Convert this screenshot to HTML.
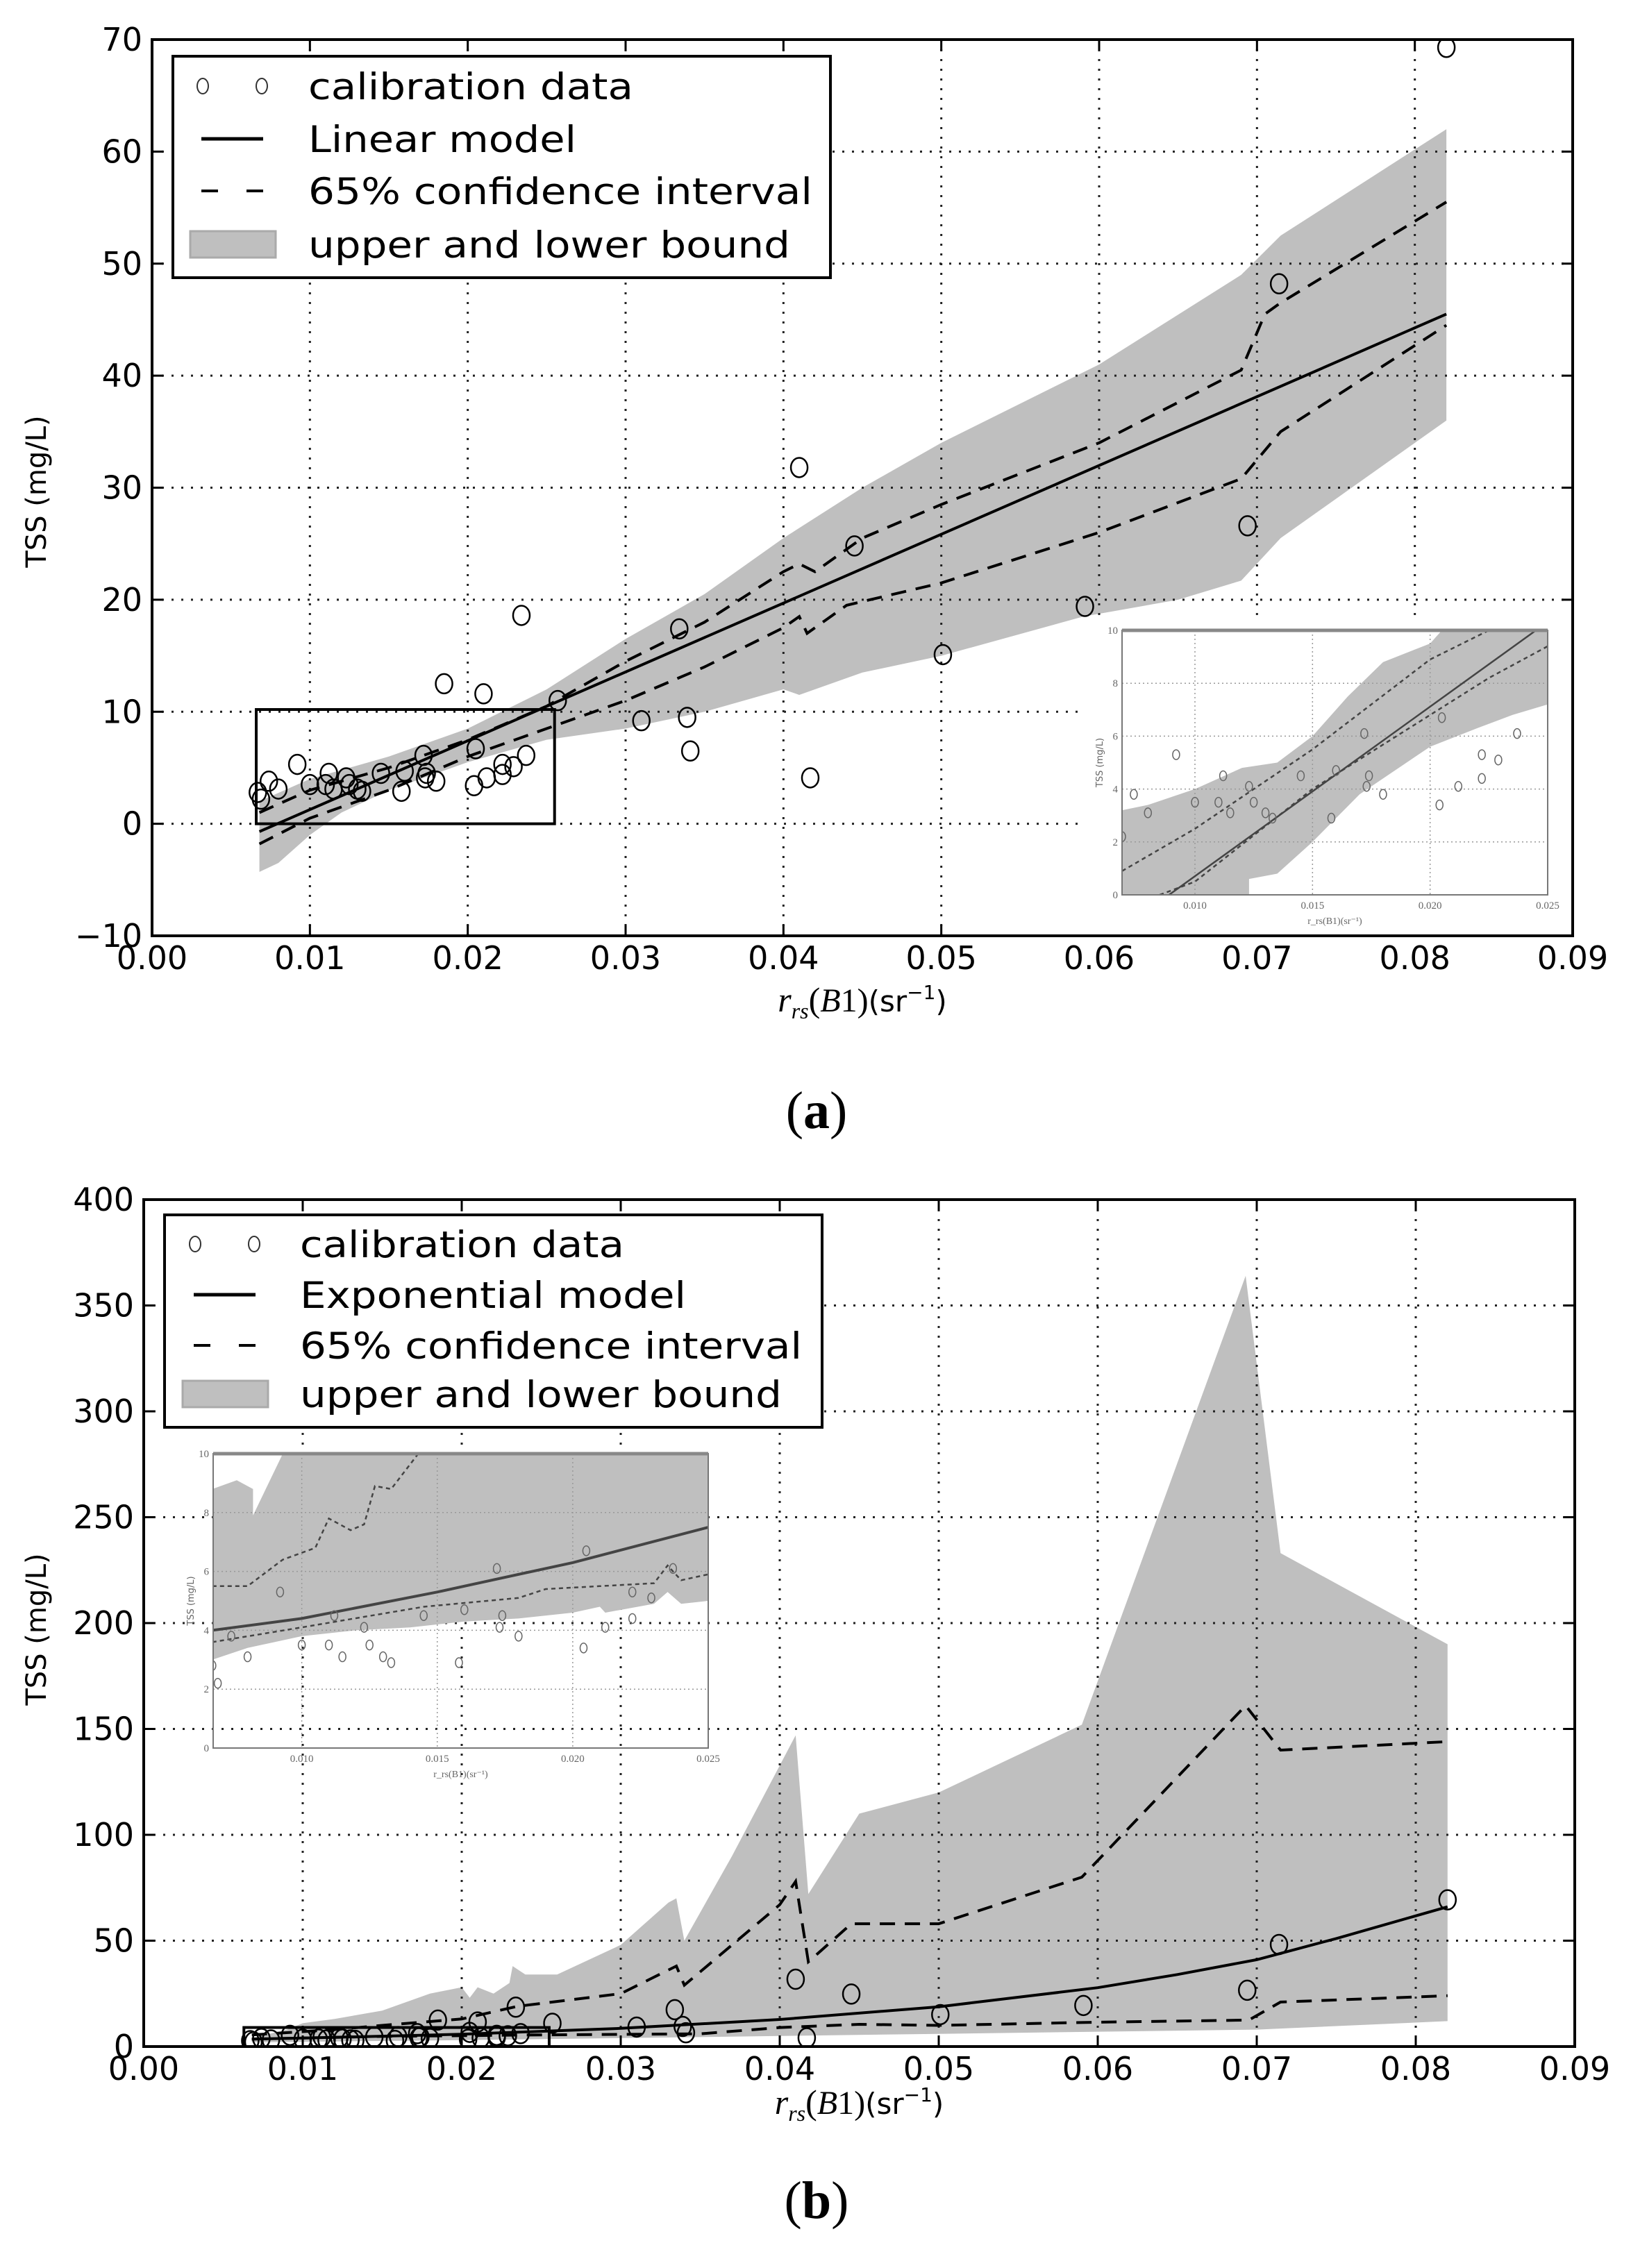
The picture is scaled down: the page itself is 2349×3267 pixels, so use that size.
<!DOCTYPE html>
<html><head><meta charset="utf-8"><style>
html,body{margin:0;padding:0;background:#fff;}
svg{display:block;font-family:"DejaVu Sans","Liberation Sans",sans-serif;}
</style></head>
<body>
<svg id="fig" width="2349" height="3267" viewBox="0 0 2349 3267" xmlns="http://www.w3.org/2000/svg">
<rect x="0" y="0" width="2349" height="3267" fill="#fff"/>
</svg>
<script>
// ---------- DATA ----------
const xTicks = [0.00,0.01,0.02,0.03,0.04,0.05,0.06,0.07,0.08,0.09];
const xTickLabels = ["0.00","0.01","0.02","0.03","0.04","0.05","0.06","0.07","0.08","0.09"];
const yTicksA = [-10,0,10,20,30,40,50,60,70];
const yTickLabelsA = ["\u221210","0","10","20","30","40","50","60","70"];
const yTicksB = [0,50,100,150,200,250,300,350,400];
const yTickLabelsB = ["0","50","100","150","200","250","300","350","400"];

const obsX = [0.082,0.0714,0.0694,0.0591,0.0501,0.0410,0.0417,0.0445,0.0334,0.0339,0.0341,0.0310,0.0257,0.0234,0.0185,0.0210,0.0205,0.0204,0.0212,0.0222,0.0222,0.0229,0.0237,0.0067,0.0069,0.0074,0.0080,0.0092,0.0100,0.0110,0.0112,0.0115,0.0123,0.0125,0.0130,0.0133,0.0145,0.0158,0.0160,0.0172,0.0173,0.0180,0.0174];
const obsY = [69.3,48.2,26.6,19.4,15.1,31.8,4.1,24.8,17.4,9.5,6.5,9.2,11.0,18.6,12.5,11.6,6.7,3.4,4.1,5.3,4.4,5.1,6.1,2.8,2.2,3.8,3.1,5.3,3.5,3.5,4.5,3.1,4.1,3.5,3.1,2.9,4.5,2.9,4.7,6.1,4.1,3.8,4.5];

// panel (a) linear model
const linModelX = [0.0068,0.082];
const linModelY = [-0.7,45.5];
const linBandUpX = [0.0068,0.010,0.015,0.020,0.025,0.030,0.035,0.040,0.045,0.050,0.060,0.069,0.0715,0.082];
const linBandUpY = [2,4,6,8.5,12,16.5,20.5,25.5,30,34,41,49,52.5,62];
const linBandLoX = [0.0068,0.008,0.010,0.012,0.015,0.020,0.025,0.030,0.035,0.040,0.041,0.045,0.050,0.059,0.065,0.069,0.0715,0.082];
const linBandLoY = [-4.3,-3.5,-1,1,3,5.5,7.5,8.5,10,12,11.5,13.5,15,18.5,20,21.7,25.5,36];
const linCiUpX = [0.0068,0.010,0.015,0.020,0.025,0.030,0.035,0.040,0.041,0.042,0.045,0.050,0.060,0.069,0.0705,0.0715,0.082];
const linCiUpY = [1,3,5,7.5,10.5,14.5,18,22.5,23.2,22.5,25.5,28.5,34,40.5,45.5,46.5,55.5];
const linCiLoX = [0.0068,0.010,0.015,0.020,0.025,0.030,0.035,0.040,0.041,0.0415,0.044,0.050,0.060,0.069,0.0715,0.082];
const linCiLoY = [-1.8,0.5,3,6,8.5,11,14,17.5,18.5,17,19.5,21.5,26,30.8,35,44.5];

// inset (a)
const insAModelX = [0.0089,0.0245];
const insAModelY = [0,10];
const insABandUpX = [0.0069,0.008,0.010,0.012,0.0135,0.015,0.0165,0.018,0.020,0.0205,0.025];
const insABandUpY = [3.2,3.4,4.0,4.8,5.0,6.0,7.5,8.8,9.5,10,10];
const insABandLoX = [0.0069,0.0123,0.0123,0.0135,0.015,0.017,0.020,0.022,0.0235,0.025];
const insABandLoY = [0,0,0.6,0.8,2,3.8,5.6,6.3,6.8,7.2];
const insACiUpX = [0.0069,0.010,0.015,0.020,0.0225];
const insACiUpY = [0.9,2.5,5.5,8.9,10];
const insACiLoX = [0.0085,0.010,0.015,0.020,0.0225,0.025];
const insACiLoY = [0,0.5,4.0,6.8,8.2,9.4];

// panel (b) exponential model
const expModelX = [0.0068,0.010,0.020,0.030,0.040,0.050,0.060,0.065,0.070,0.075,0.082];
const expModelY = [3.5,4,5.8,8.6,12.8,18.8,27.8,34,41,51,66];
const expBandUpX = [0.0068,0.009,0.010,0.012,0.015,0.018,0.020,0.0205,0.021,0.022,0.023,0.0232,0.024,0.026,0.030,0.033,0.0335,0.034,0.037,0.041,0.0418,0.045,0.050,0.059,0.0693,0.0715,0.082];
const expBandUpY = [4,8,11,13,17,25,28,23,28,25,30,38,34,34,48,68,70,50,90,147,72,110,120,152,364,233,190];
const expBandLoX = [0.0068,0.020,0.030,0.040,0.050,0.070,0.082];
const expBandLoY = [2,3,4,5,6,8,12];
const expCiUpX = [0.0068,0.012,0.015,0.020,0.0235,0.030,0.0335,0.034,0.040,0.041,0.0418,0.0445,0.050,0.059,0.0693,0.0715,0.082];
const expCiUpY = [5.5,8,10,13,19,25,38,29,67,78,40,58,58,80,161,140,144];
const expCiLoX = [0.0068,0.015,0.025,0.035,0.040,0.045,0.050,0.060,0.0695,0.0715,0.082];
const expCiLoY = [3.5,4.8,5.5,6,9,10.5,10,11.5,12.5,21,24];

// inset (b)
const insBModelX = [0.0067,0.010,0.015,0.020,0.025];
const insBModelY = [4.0,4.4,5.3,6.3,7.5];
const insBBandUpX = [0.0067,0.0076,0.0082,0.0082,0.0093,0.025];
const insBBandUpY = [8.8,9.1,8.8,7.9,10,10];
const insBBandLoX = [0.0067,0.008,0.010,0.012,0.014,0.016,0.018,0.020,0.021,0.0212,0.023,0.0235,0.024,0.025];
const insBBandLoY = [3.0,3.4,3.8,4.0,4.1,4.3,4.4,4.6,4.8,4.6,4.9,5.3,4.9,5.0];
const insBCiUpX = [0.0067,0.008,0.0093,0.0105,0.011,0.0118,0.0123,0.0127,0.0133,0.0143];
const insBCiUpY = [5.5,5.5,6.4,6.8,7.8,7.4,7.6,8.9,8.8,10];
const insBCiLoX = [0.0067,0.010,0.0145,0.018,0.019,0.021,0.023,0.0235,0.024,0.025];
const insBCiLoY = [3.6,4.1,4.8,5.1,5.4,5.5,5.6,6.2,5.7,5.9];
const insXTicks = [0.010,0.015,0.020,0.025];
const insXTickLabels = ["0.010","0.015","0.020","0.025"];
const insYTicks = [0,2,4,6,8,10];

// ---------- HELPERS ----------
const NS = "http://www.w3.org/2000/svg";
const svg = document.getElementById('fig');
function mk(tag, attrs, parent){
  const e = document.createElementNS(NS, tag);
  for (const k in attrs) e.setAttribute(k, attrs[k]);
  (parent||svg).appendChild(e);
  return e;
}
function scale(d0,d1,p0,p1){ return v => p0 + (v-d0)/(d1-d0)*(p1-p0); }
function pts(xs,ys,sx,sy){ return xs.map((x,i)=>sx(x).toFixed(1)+','+sy(ys[i]).toFixed(1)).join(' '); }
function bandPts(ux,uy,lx,ly,sx,sy){
  const a = ux.map((x,i)=>sx(x).toFixed(1)+','+sy(uy[i]).toFixed(1));
  const b = lx.map((x,i)=>sx(x).toFixed(1)+','+sy(ly[i]).toFixed(1)).reverse();
  return a.concat(b).join(' ');
}

function drawPanel(cfg){
  const g = mk('g',{});
  
  
  const sx = scale(0,0.09,cfg.x0,cfg.x1);
  const sy = scale(cfg.yMin,cfg.yMax,cfg.yB,cfg.yT);
  const clip = mk('clipPath',{id:'clip-'+cfg.name},g);
  mk('rect',{x:cfg.x0,y:cfg.yT,width:cfg.x1-cfg.x0,height:cfg.yB-cfg.yT},clip);
  const plot = mk('g',{'clip-path':'url(#clip-'+cfg.name+')'},g);
  const band = mk('polygon',{points:bandPts(cfg.bux,cfg.buy,cfg.blx,cfg.bly,sx,sy),fill:'#bfbfbf',stroke:'none'},plot);
  
  
  xTicks.forEach(t=>{
    if (t===0||t===0.09) return;
    mk('line',{x1:sx(t),x2:sx(t),y1:cfg.yT,y2:cfg.yB,stroke:'#222','stroke-width':3,'stroke-dasharray':'3 11'},plot);
  });
  cfg.yTicks.forEach(t=>{
    if (t===cfg.yMin||t===cfg.yMax) return;
    mk('line',{x1:cfg.x0,x2:cfg.x1,y1:sy(t),y2:sy(t),stroke:'#222','stroke-width':3,'stroke-dasharray':'3 11'},plot);
  });
  const ciU = mk('polyline',{points:pts(cfg.cux,cfg.cuy,sx,sy),fill:'none',stroke:'#000','stroke-width':4,'stroke-dasharray':'22 14'},plot);
  
  
  const ciL = mk('polyline',{points:pts(cfg.clx,cfg.cly,sx,sy),fill:'none',stroke:'#000','stroke-width':4,'stroke-dasharray':'22 14'},plot);
  
  
  const model = mk('polyline',{points:pts(cfg.mx,cfg.my,sx,sy),fill:'none',stroke:'#000','stroke-width':4},plot);
  
  
  const zr = mk('rect',{x:sx(cfg.zr[0]),y:sy(cfg.zr[3]),width:sx(cfg.zr[1])-sx(cfg.zr[0]),height:sy(cfg.zr[2])-sy(cfg.zr[3]),fill:'none',stroke:'#000','stroke-width':4},plot);
  
  
  obsX.forEach((x,i)=>{
    const c = mk('ellipse',{cx:sx(x),cy:sy(obsY[i]),rx:12,ry:14,fill:'none',stroke:'#000','stroke-width':2.5},plot);
    
    
  });
  const fr = mk('rect',{x:cfg.x0,y:cfg.yT,width:cfg.x1-cfg.x0,height:cfg.yB-cfg.yT,fill:'none',stroke:'#000','stroke-width':4},g);
  
  
  xTicks.forEach((t,i)=>{
    mk('line',{x1:sx(t),x2:sx(t),y1:cfg.yB,y2:cfg.yB-16,stroke:'#000','stroke-width':3},g);
    mk('line',{x1:sx(t),x2:sx(t),y1:cfg.yT,y2:cfg.yT+16,stroke:'#000','stroke-width':3},g);
    const tx = mk('text',{x:sx(t),y:cfg.yB+48,'font-size':46,'text-anchor':'middle',fill:'#000'},g);
    tx.textContent = xTickLabels[i];
    
    
  });
  cfg.yTicks.forEach((t,i)=>{
    mk('line',{x1:cfg.x0,x2:cfg.x0+16,y1:sy(t),y2:sy(t),stroke:'#000','stroke-width':3},g);
    mk('line',{x1:cfg.x1,x2:cfg.x1-16,y1:sy(t),y2:sy(t),stroke:'#000','stroke-width':3},g);
    const ty = mk('text',{x:cfg.x0-14,y:sy(t)+16,'font-size':46,'text-anchor':'end',fill:'#000'},g);
    ty.textContent = cfg.yLabels[i];
    
    
  });
  const yt = mk('text',{x:0,y:0,'font-size':40,'text-anchor':'middle',fill:'#000',transform:'translate(66,'+cfg.yTitleY+') rotate(-90)'},g);
  yt.textContent = 'TSS (mg/L)';
  
  
  const xt = mk('text',{x:(cfg.x0+cfg.x1)/2,y:cfg.xTitleY,'font-size':42,'text-anchor':'middle',fill:'#000'},g);
  
  
  xt.innerHTML = '<tspan font-family="Liberation Serif, serif" font-style="italic" font-size="50">r</tspan><tspan font-family="Liberation Serif, serif" font-style="italic" font-size="32" dy="10">rs</tspan><tspan font-family="Liberation Serif, serif" font-size="50" dy="-10">(</tspan><tspan font-family="Liberation Serif, serif" font-style="italic" font-size="48">B</tspan><tspan font-family="Liberation Serif, serif" font-size="48">1)</tspan><tspan>(sr</tspan><tspan font-size="28" dy="-18">\u22121</tspan><tspan dy="18">)</tspan>';
  const cap = mk('text',{x:1176,y:cfg.capY,'font-size':76,'text-anchor':'middle','font-family':'Liberation Serif, serif',fill:'#000'},g);
  cap.innerHTML = '(<tspan font-weight="bold">'+cfg.cap+'</tspan>)';
  
  
  const L = cfg.leg;
  const lg = mk('g',{},g);
  
  
  mk('rect',{x:L.x,y:L.y,width:L.w,height:L.h,fill:'#fff',stroke:'#000','stroke-width':4},lg);
  const r = L.rows;
  mk('ellipse',{cx:L.s1,cy:r[0],rx:8,ry:11,fill:'none',stroke:'#333','stroke-width':2},lg);
  mk('ellipse',{cx:L.s2,cy:r[0],rx:8,ry:11,fill:'none',stroke:'#333','stroke-width':2},lg);
  mk('line',{x1:L.s1-2,x2:L.s2+2,y1:r[1],y2:r[1],stroke:'#000','stroke-width':5},lg);
  mk('line',{x1:L.s1-2,x2:L.s1+22,y1:r[2],y2:r[2],stroke:'#000','stroke-width':4},lg);
  mk('line',{x1:L.s2-22,x2:L.s2+2,y1:r[2],y2:r[2],stroke:'#000','stroke-width':4},lg);
  mk('rect',{x:L.s1-18,y:r[3]-19,width:L.s2-L.s1+38,height:38,fill:'#bfbfbf',stroke:'#aaa','stroke-width':3},lg);
  L.labels.forEach((t,i)=>{
    const te = mk('text',{x:L.tx,y:r[i]+19,'font-size':53,fill:'#000',textLength:L.widths[i],lengthAdjust:'spacingAndGlyphs'},lg);
    te.textContent = t;
    
    
  });
  return {sx,sy};
}

function drawInset(cfg){
  const g = mk('g',{});
  
  
  if (cfg.bg) mk('rect',{x:cfg.bg[0],y:cfg.bg[1],width:cfg.bg[2],height:cfg.bg[3],fill:'#fff'},g);
  const sx = scale(cfg.xMin,0.025,cfg.x0,cfg.x1);
  const sy = scale(0,10,cfg.yB,cfg.yT);
  const clip = mk('clipPath',{id:'clip-'+cfg.name},g);
  mk('rect',{x:cfg.x0,y:cfg.yT,width:cfg.x1-cfg.x0,height:cfg.yB-cfg.yT},clip);
  const p = mk('g',{'clip-path':'url(#clip-'+cfg.name+')'},g);
  mk('polygon',{points:bandPts(cfg.bux,cfg.buy,cfg.blx,cfg.bly,sx,sy),fill:'#bfbfbf'},p);
  insXTicks.forEach(t=>mk('line',{x1:sx(t),x2:sx(t),y1:cfg.yT,y2:cfg.yB,stroke:'#999','stroke-width':1.5,'stroke-dasharray':'2 4'},p));
  insYTicks.forEach(t=>mk('line',{x1:cfg.x0,x2:cfg.x1,y1:sy(t),y2:sy(t),stroke:'#999','stroke-width':1.5,'stroke-dasharray':'2 4'},p));
  mk('polyline',{points:pts(cfg.cux,cfg.cuy,sx,sy),fill:'none',stroke:'#444','stroke-width':2.5,'stroke-dasharray':'6 5'},p);
  mk('polyline',{points:pts(cfg.clx,cfg.cly,sx,sy),fill:'none',stroke:'#444','stroke-width':2.5,'stroke-dasharray':'6 5'},p);
  mk('polyline',{points:pts(cfg.mx,cfg.my,sx,sy),fill:'none',stroke:'#444','stroke-width':cfg.mw},p);
  obsX.forEach((x,i)=>{ if (x<0.026) mk('ellipse',{cx:sx(x),cy:sy(obsY[i]),rx:5,ry:7,fill:'none',stroke:'#666','stroke-width':1.5},p); });
  mk('rect',{x:cfg.x0,y:cfg.yT,width:cfg.x1-cfg.x0,height:cfg.yB-cfg.yT,fill:'none',stroke:'#777','stroke-width':2},g);
  mk('line',{x1:cfg.x0,x2:cfg.x1,y1:cfg.yT,y2:cfg.yT,stroke:'#888','stroke-width':5},g);
  insXTicks.forEach((t,i)=>{ const e=mk('text',{x:sx(t),y:cfg.yB+20,'font-size':15,'text-anchor':'middle',fill:'#666','font-family':'Liberation Serif, serif'},g); e.textContent=insXTickLabels[i]; });
  insYTicks.forEach(t=>{ const e=mk('text',{x:cfg.x0-6,y:sy(t)+5,'font-size':15,'text-anchor':'end',fill:'#666','font-family':'Liberation Serif, serif'},g); e.textContent=String(t); });
  const yl = mk('text',{x:0,y:0,'font-size':13,'text-anchor':'middle',fill:'#666',transform:'translate('+(cfg.x0-28)+','+((cfg.yT+cfg.yB)/2)+') rotate(-90)'},g);
  yl.textContent='TSS (mg/L)';
  const xl = mk('text',{x:(cfg.x0+cfg.x1)/2,y:cfg.yB+42,'font-size':14,'text-anchor':'middle',fill:'#666','font-family':'Liberation Serif, serif'},g);
  xl.textContent='r_rs(B1)(sr\u207B\u00B9)';
}

// ---------- PANEL A ----------
drawPanel({name:'panel-a-linear',x0:219,x1:2265,yT:57,yB:1348,yMin:-10,yMax:70,yTicks:yTicksA,yLabels:yTickLabelsA,
  bux:linBandUpX,buy:linBandUpY,blx:linBandLoX,bly:linBandLoY,cux:linCiUpX,cuy:linCiUpY,clx:linCiLoX,cly:linCiLoY,
  mx:linModelX,my:linModelY,zr:[0.0066,0.0255,0,10.2],yTitleY:708,xTitleY:1457,capY:1625,cap:'a',
  leg:{x:249,y:81,w:947,h:319,rows:[124,200,275,352],s1:292,s2:377,tx:444,
    labels:['calibration data','Linear model','65% confidence interval','upper and lower bound'],widths:[468,386,726,694]}});
drawInset({name:'inset-a',bg:[1555,895,708,451],x0:1616,x1:2229,yT:908,yB:1289,xMin:0.0069,
  bux:insABandUpX,buy:insABandUpY,blx:insABandLoX,bly:insABandLoY,cux:insACiUpX,cuy:insACiUpY,clx:insACiLoX,cly:insACiLoY,
  mx:insAModelX,my:insAModelY,mw:2.5});

// ---------- PANEL B ----------
drawPanel({name:'panel-b-exponential',x0:207,x1:2268,yT:1728,yB:2948,yMin:0,yMax:400,yTicks:yTicksB,yLabels:yTickLabelsB,
  bux:expBandUpX,buy:expBandUpY,blx:expBandLoX,bly:expBandLoY,cux:expCiUpX,cuy:expCiUpY,clx:expCiLoX,cly:expCiLoY,
  mx:expModelX,my:expModelY,zr:[0.0063,0.0255,0,9],yTitleY:2347,xTitleY:3045,capY:3195,cap:'b',
  leg:{x:237,y:1750,w:947,h:306,rows:[1792,1865,1938,2008],s1:281,s2:366,tx:432,
    labels:['calibration data','Exponential model','65% confidence interval','upper and lower bound'],widths:[467,556,723,694]}});
drawInset({name:'inset-b',bg:null,x0:307,x1:1020,yT:2094,yB:2518,xMin:0.00673,
  bux:insBBandUpX,buy:insBBandUpY,blx:insBBandLoX,bly:insBBandLoY,cux:insBCiUpX,cuy:insBCiUpY,clx:insBCiLoX,cly:insBCiLoY,
  mx:insBModelX,my:insBModelY,mw:4});
</script>
</body></html>
